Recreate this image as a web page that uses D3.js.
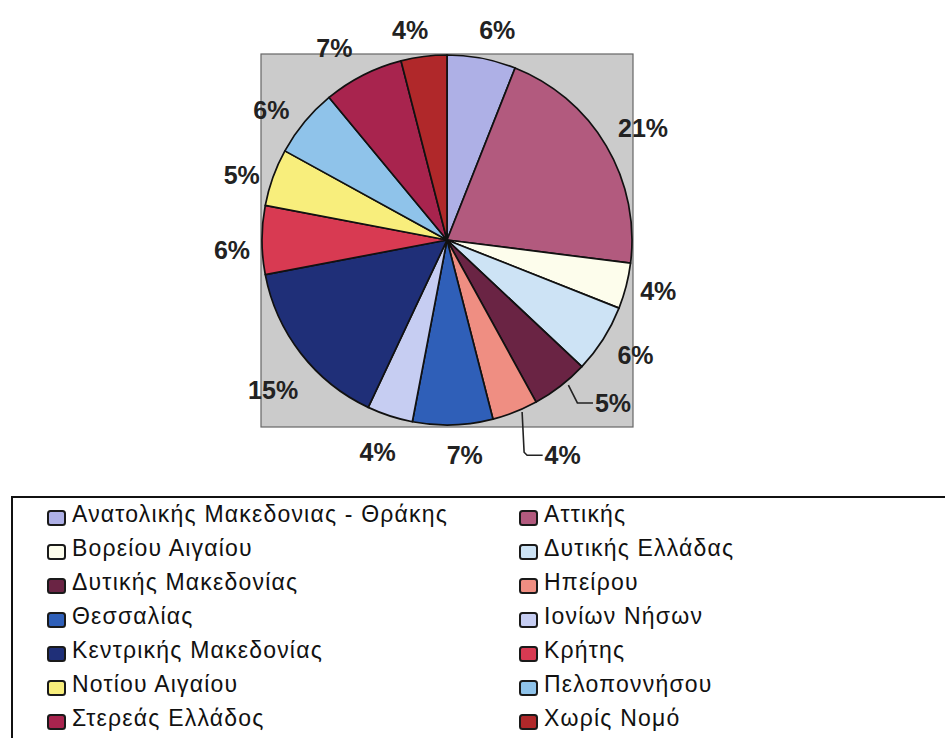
<!DOCTYPE html>
<html>
<head>
<meta charset="utf-8">
<script src="https://cdn.jsdelivr.net/npm/d3@7"></script>
<style>
  html, body { margin: 0; padding: 0; background: #ffffff; }
  svg { display: block; }
</style>
</head>
<body>
<svg id="chart" width="945" height="738"></svg>
<script>
// ---- Data ----
const categories = [
  "Ανατολικής Μακεδονιας - Θράκης",
  "Αττικής",
  "Βορείου Αιγαίου",
  "Δυτικής Ελλάδας",
  "Δυτικής Μακεδονίας",
  "Ηπείρου",
  "Θεσσαλίας",
  "Ιονίων Νήσων",
  "Κεντρικής Μακεδονίας",
  "Κρήτης",
  "Νοτίου Αιγαίου",
  "Πελοποννήσου",
  "Στερεάς Ελλάδος",
  "Χωρίς Νομό"
];
const values = [6, 21, 4, 6, 5, 4, 7, 4, 15, 6, 5, 6, 7, 4];
const colors = [
  "#aeb0e6", "#b25a7e", "#fdfdec", "#cde3f5", "#6a2444", "#ef8e82", "#2f5fb8",
  "#c6cdf2", "#1f2f78", "#d83a52", "#f8ee7c", "#8fc3ea", "#a8244e", "#b0282a"
];
// label nudges (layout only) [dx, dy]
const labelNudge = [
  [10, 1], [11, -3], [3, -2], [7, 0], [25, -3], [31, 20], [11, 0],
  [-3, 8], [-4, 18], [0, 10], [-3, 8], [-10, 7], [-15, 0], [-10, 3]
];
// labels with leader lines
const leader = [false, false, false, false, true, true, false, false, false, false, false, false, false, false];

const svg = d3.select("#chart");
const cx = 447, cy = 240, r = 185;

// plot area
svg.append("rect")
  .attr("x", cx - r - 1).attr("y", cy - r - 1)
  .attr("width", 2 * r + 2).attr("height", 2 * r + 3)
  .attr("fill", "#cbcbcb")
  .attr("stroke", "#666").attr("stroke-width", 1.2);

const pie = d3.pie().sort(null).value(d => d)(values);
const arc = d3.arc().innerRadius(0).outerRadius(r);
const g = svg.append("g").attr("transform", `translate(${cx},${cy})`);

g.selectAll("path.slice").data(pie).join("path")
  .attr("class", "slice")
  .attr("d", arc)
  .attr("fill", (d, i) => colors[i])
  .attr("stroke", "#111").attr("stroke-width", 1.7)
  .attr("stroke-linejoin", "round");

const fmt = d3.format(".0%");
const total = d3.sum(values);
const labR = r + 30;
const labelPos = pie.map((d, i) => {
  const a = (d.startAngle + d.endAngle) / 2;
  let x = Math.sin(a) * labR, y = -Math.cos(a) * labR;
  if (leader[i]) {
    x = Math.sin(a) * (r + 45); y = -Math.cos(a) * (r + 25);
  }
  return { a, x: x + labelNudge[i][0], y: y + labelNudge[i][1] };
});

// leader lines
const line = d3.line();
pie.forEach((d, i) => {
  if (!leader[i]) return;
  const p = labelPos[i];
  const sx = Math.sin(p.a) * r, sy = -Math.cos(p.a) * r;
  let pts;
  if (i === 4) pts = [[sx + 8, sy - 1], [sx + 17, p.y], [p.x - 20, p.y]];
  else pts = [[sx + 7, sy], [sx + 9, p.y - 3], [sx + 12, p.y], [p.x - 20, p.y]];
  g.append("path").attr("d", line(pts))
    .attr("fill", "none").attr("stroke", "#222").attr("stroke-width", 1.6);
});

g.selectAll("text.lab").data(pie).join("text")
  .attr("class", "lab")
  .attr("x", (d, i) => labelPos[i].x)
  .attr("y", (d, i) => labelPos[i].y)
  .attr("text-anchor", "middle")
  .attr("dy", "0.36em")
  .attr("font-family", "'Liberation Sans', Arial, sans-serif")
  .attr("font-weight", "bold")
  .attr("font-size", 25)
  .attr("fill", "#222")
  .text(d => fmt(d.data / total));

// legend
svg.append("rect")
  .attr("x", 12).attr("y", 497).attr("width", 960).attr("height", 300)
  .attr("fill", "#fff").attr("stroke", "#111").attr("stroke-width", 2);

const legend = svg.append("g");
const items = legend.selectAll("g.item").data(categories).join("g")
  .attr("class", "item")
  .attr("transform", (d, i) => {
    const col = i % 2;
    const row = Math.floor(i / 2);
    return `translate(${col === 0 ? 48 : 520},${518 + row * 34})`;
  });
items.append("rect")
  .attr("x", 0).attr("y", -7).attr("width", 17).attr("height", 14)
  .attr("rx", 2.5)
  .attr("fill", (d, i) => colors[i])
  .attr("stroke", "#1a1a1a").attr("stroke-width", 2);
items.append("text")
  .attr("x", 24).attr("y", 4)
  .attr("font-family", "'Liberation Sans', Arial, sans-serif")
  .attr("font-size", 23)
  .attr("letter-spacing", 1.2)
  .attr("fill", "#111")
  .text(d => d);
</script>
</body>
</html>
